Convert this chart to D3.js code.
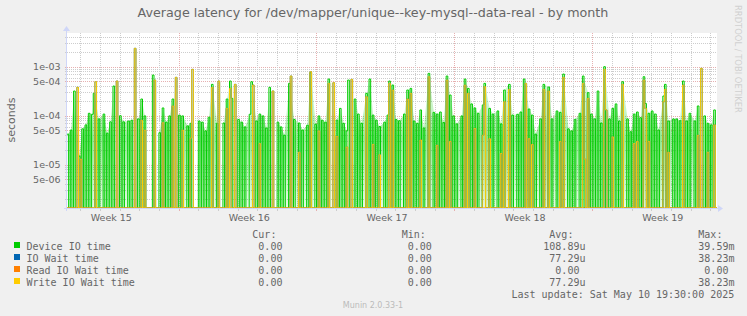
<!DOCTYPE html>
<html>
<head>
<meta charset="utf-8">
<title>Average latency for /dev/mapper/unique--key-mysql--data-real - by month</title>
<script src="https://cdn.jsdelivr.net/npm/d3@7"></script>
<style>
    html, body { margin: 0; padding: 0; background: #f0f0f0; }
    svg { display: block; }
    text { fill: #666666; font-family: "DejaVu Sans", sans-serif; }
    .mono { font-family: "DejaVu Sans Mono", monospace; font-size: 10px; white-space: pre; }
</style>
</head>
<body>
<div id="chart"></div>
<script>
// ========================================
// DATA
// ========================================

// one value per 2 hour sample, in microseconds (0 = nothing measured)
const sampleStart = Date.UTC(2025, 3, 8, 8, 0);
const sampleHours = 2;

const deviceIoTime = [
    42, 0, 51, 0, 319, 0, 0, 15, 0, 54, 0, 65,
    0, 112, 0, 107, 286, 0, 0, 86, 0, 0, 108, 0,
    44, 0, 75, 0, 403, 0, 0, 0, 100, 0, 75, 0,
    0, 78, 0, 81, 0, 0, 0, 86, 0, 219, 0, 99,
    0, 0, 0, 0, 675, 0, 0, 0, 45, 0, 144, 0,
    74, 0, 99, 0, 219, 0, 0, 0, 103, 0, 99, 0,
    0, 62, 0, 70, 0, 0, 0, 0, 78, 0, 74, 0,
    49, 0, 93, 0, 436, 0, 0, 70, 0, 0, 0, 71,
    0, 219, 0, 510, 226, 0, 0, 0, 84, 0, 74, 0,
    59, 0, 0, 107, 494, 0, 0, 78, 0, 108, 0, 99,
    0, 56, 0, 379, 0, 0, 0, 0, 74, 0, 59, 0,
    40, 0, 0, 457, 0, 0, 84, 0, 0, 71, 0, 51,
    0, 0, 64, 0, 754, 0, 0, 67, 0, 99, 0, 81,
    0, 74, 0, 560, 0, 0, 0, 0, 81, 0, 141, 0,
    70, 0, 49, 534, 0, 0, 0, 219, 0, 108, 0, 70,
    0, 0, 286, 0, 560, 0, 103, 0, 81, 0, 60, 0,
    0, 74, 0, 103, 510, 0, 422, 0, 84, 0, 79, 0,
    0, 108, 0, 334, 0, 361, 0, 78, 0, 70, 0, 131,
    0, 56, 0, 0, 731, 0, 0, 117, 0, 108, 0, 119,
    0, 73, 0, 645, 0, 264, 0, 99, 0, 68, 0, 0,
    99, 0, 560, 0, 361, 0, 174, 0, 144, 0, 112, 0,
    0, 166, 457, 0, 0, 141, 0, 108, 0, 0, 125, 0,
    68, 0, 334, 0, 0, 436, 0, 103, 0, 0, 107, 0,
    119, 0, 560, 0, 0, 137, 0, 103, 0, 42, 0, 0,
    86, 0, 436, 0, 0, 385, 0, 86, 0, 0, 125, 0,
    117, 0, 708, 0, 0, 54, 0, 49, 0, 84, 0, 0,
    112, 0, 645, 0, 0, 295, 0, 108, 0, 86, 0, 319,
    0, 71, 0, 1000, 0, 0, 86, 0, 141, 0, 174, 0,
    78, 0, 494, 0, 0, 86, 0, 47, 0, 108, 0, 119,
    0, 91, 0, 625, 178, 0, 112, 0, 125, 0, 108, 0,
    51, 0, 0, 252, 436, 0, 78, 0, 0, 86, 0, 86,
    0, 79, 0, 510, 0, 78, 0, 112, 0, 0, 78, 0,
    158, 0, 0, 0, 99, 0, 70, 0, 65, 0, 131, 0
];

const writeIoWaitTime = [
    0, 0, 0, 0, 0, 0, 379, 0, 13, 0, 0, 0,
    0, 0, 0, 0, 0, 494, 0, 0, 0, 0, 0, 0,
    0, 0, 0, 0, 0, 0, 510, 0, 0, 0, 0, 0,
    0, 0, 0, 0, 0, 2370, 0, 0, 0, 81, 0, 51,
    0, 0, 0, 0, 0, 534, 0, 0, 0, 0, 72, 0,
    0, 0, 0, 0, 158, 0, 606, 0, 0, 0, 51, 0,
    0, 0, 0, 35, 882, 0, 0, 0, 0, 0, 0, 0,
    0, 0, 0, 0, 379, 0, 0, 0, 510, 0, 0, 0,
    0, 141, 0, 361, 0, 0, 436, 0, 0, 0, 0, 0,
    0, 0, 0, 0, 0, 422, 0, 0, 0, 27, 0, 0,
    0, 0, 0, 0, 0, 319, 0, 0, 0, 0, 0, 0,
    0, 0, 0, 0, 645, 0, 0, 0, 0, 18, 0, 0,
    0, 0, 0, 0, 790, 0, 0, 0, 0, 49, 0, 0,
    0, 0, 0, 457, 0, 0, 472, 0, 38, 0, 0, 0,
    0, 0, 23, 0, 0, 551, 0, 0, 0, 0, 0, 0,
    0, 0, 244, 0, 0, 0, 26, 0, 0, 0, 16, 0,
    0, 0, 0, 0, 457, 0, 334, 0, 0, 0, 0, 0,
    0, 0, 0, 219, 0, 286, 0, 0, 0, 0, 0, 32,
    0, 0, 0, 0, 625, 0, 0, 0, 0, 25, 0, 0,
    0, 0, 0, 534, 0, 30, 0, 0, 0, 0, 0, 0,
    0, 0, 422, 0, 286, 0, 0, 0, 55, 0, 0, 0,
    0, 40, 391, 0, 0, 34, 0, 0, 0, 0, 0, 0,
    17, 0, 193, 0, 0, 345, 0, 0, 0, 0, 0, 0,
    0, 0, 0, 457, 0, 34, 0, 26, 0, 0, 0, 0,
    0, 0, 345, 0, 0, 319, 0, 0, 0, 0, 0, 0,
    30, 0, 606, 0, 0, 0, 0, 0, 0, 0, 0, 0,
    0, 0, 457, 13, 0, 226, 0, 0, 0, 0, 0, 0,
    0, 0, 0, 882, 131, 0, 0, 0, 37, 0, 0, 0,
    0, 0, 436, 0, 0, 0, 0, 0, 0, 27, 0, 30,
    0, 0, 0, 534, 141, 0, 30, 0, 0, 0, 0, 0,
    0, 0, 0, 193, 345, 0, 18, 0, 0, 0, 0, 0,
    0, 0, 0, 422, 0, 0, 0, 0, 0, 0, 0, 0,
    40, 0, 925, 0, 0, 0, 18, 0, 0, 0, 65, 0
];

// IO wait equals write wait in this period (same avg / max), read wait stayed at 0
const ioWaitTime = writeIoWaitTime.slice();
const readIoWaitTime = new Array(deviceIoTime.length).fill(0);

const seriesNames = ["Device IO time", "IO Wait time", "Read IO Wait time", "Write IO Wait time"];
const seriesColors = ["#00cc00", "#0066b3", "#ff8000", "#ffcc00"];
const seriesValues = [deviceIoTime, ioWaitTime, readIoWaitTime, writeIoWaitTime];

// legend numbers, seconds
const legendCur = [0, 0, 0, 0];
const legendMin = [0, 0, 0, 0];
const legendAvg = [108.89e-6, 77.29e-6, 0, 77.29e-6];
const legendMax = [39.59e-3, 38.23e-3, 0, 38.23e-3];

const yTickValues = [1e-3, 5e-4, 1e-4, 5e-5, 1e-5, 5e-6];
const yDomain = [1.31e-6, 4.87e-3];
const lastUpdate = "Sat May 10 19:30:00 2025";

// ========================================
// LAYOUT
// ========================================

const W = 747, H = 316;
const plot = { left: 67, right: 717, top: 33, bottom: 208 };
const axisColor = "#cfd6f8";
const gridColor = "#cdcdcd";
const mgridColor = "#e6b0b0";

const svg = d3.select("#chart").append("svg")
    .attr("width", W)
    .attr("height", H);

svg.append("rect").attr("width", W).attr("height", H).attr("fill", "#f0f0f0");
svg.append("rect")
    .attr("x", plot.left).attr("y", plot.top)
    .attr("width", plot.right - plot.left).attr("height", plot.bottom - plot.top)
    .attr("fill", "#ffffff");

const stepMs = sampleHours * 3600 * 1000;
const timeOf = i => new Date(sampleStart + i * stepMs);
const tStart = timeOf(0);
const tEnd = timeOf(deviceIoTime.length);

const x = d3.scaleUtc().domain([tStart, tEnd]).range([plot.left, plot.right]);
const y = d3.scaleLog().domain(yDomain).range([plot.bottom, plot.top]).clamp(true);
const yOf = us => us > 0 ? y(us * 1e-6) : plot.bottom;
const crisp = v => Math.round(v) + 0.5;

// ========================================
// GRID
// ========================================

const grid = svg.append("g");

const yGrid = [];
for (let e = -6; e <= -3; e++) {
    for (let k = 1; k <= 9; k++) {
        const v = k * Math.pow(10, e);
        if (v >= yDomain[0] && v <= yDomain[1]) yGrid.push({ v, major: k === 1 || k === 5 });
    }
}

grid.selectAll(".ygrid").data(yGrid).enter().append("line")
    .attr("x1", plot.left).attr("x2", plot.right)
    .attr("y1", d => crisp(y(d.v))).attr("y2", d => crisp(y(d.v)))
    .attr("stroke", d => d.major ? mgridColor : gridColor)
    .attr("stroke-dasharray", "1,1");

grid.selectAll(".ytick").data(yGrid).enter().append("line")
    .attr("x1", plot.left - 2).attr("x2", plot.left)
    .attr("y1", d => crisp(y(d.v))).attr("y2", d => crisp(y(d.v)))
    .attr("stroke", d => d.major ? mgridColor : gridColor);

const days = d3.utcDay.range(tStart, tEnd).map(d => ({ d, major: d.getUTCDay() === 1 }));

grid.selectAll(".xgrid").data(days).enter().append("line")
    .attr("x1", d => crisp(x(d.d))).attr("x2", d => crisp(x(d.d)))
    .attr("y1", plot.top).attr("y2", plot.bottom)
    .attr("stroke", d => d.major ? mgridColor : gridColor)
    .attr("stroke-dasharray", "1,1");

grid.selectAll(".xtick").data(days).enter().append("line")
    .attr("x1", d => crisp(x(d.d))).attr("x2", d => crisp(x(d.d)))
    .attr("y1", plot.bottom).attr("y2", plot.bottom + 3)
    .attr("stroke", d => d.major ? mgridColor : gridColor);

// ========================================
// SERIES
// ========================================

const defs = svg.append("defs");
defs.append("clipPath").attr("id", "plotClip").append("rect")
    .attr("x", plot.left).attr("y", plot.top - 1)
    .attr("width", plot.right - plot.left).attr("height", plot.bottom - plot.top + 1.5);

function addFade(id, color, stops) {
    const g = defs.append("linearGradient").attr("id", id)
        .attr("gradientUnits", "userSpaceOnUse")
        .attr("x1", 0).attr("x2", 0).attr("y1", plot.top).attr("y2", plot.bottom);
    stops.forEach(([off, op]) => {
        g.append("stop").attr("offset", off).attr("stop-color", color).attr("stop-opacity", op);
    });
}
addFade("fadeGreen", seriesColors[0], [[0, 0.08], [0.45, 0.22], [0.6, 0.42], [1, 0.1]]);
addFade("fadeYellow", "#d4b000", [[0, 0.05], [0.5, 0.12], [0.75, 0.22], [1, 0.08]]);

const data = svg.append("g").attr("clip-path", "url(#plotClip)");

const toPoints = values => {
    const pts = values.map((v, i) => ({ t: timeOf(i), v }));
    pts.push({ t: tEnd, v: values[values.length - 1] });
    return pts;
};

// soft band between close neighbouring spikes (the smeared look of the rrd lines)
const band = d3.area()
    .defined(d => d !== null)
    .x(d => x(new Date(d.t.getTime() + stepMs / 2)))
    .y0(plot.bottom)
    .y1(d => yOf(d.v));

const peaks = values => {
    const out = [];
    let last = -99;
    values.forEach((v, i) => {
        if (v <= 0) return;
        if (i - last > 3) out.push(null);
        out.push({ t: timeOf(i), v });
        last = i;
    });
    return out;
};

data.append("path").attr("d", band(peaks(deviceIoTime))).attr("fill", "url(#fadeGreen)");
data.append("path").attr("d", band(peaks(writeIoWaitTime))).attr("fill", "url(#fadeYellow)");

const step = d3.line()
    .x(d => x(d.t))
    .y(d => yOf(d.v))
    .curve(d3.curveStepAfter);

seriesValues.forEach((values, i) => {
    data.append("path")
        .attr("d", step(toPoints(values)))
        .attr("fill", "none")
        .attr("stroke", seriesColors[i])
        .attr("stroke-width", 1);
});

// ========================================
// AXES
// ========================================

svg.append("line")
    .attr("x1", plot.left - 3).attr("x2", plot.right + 1)
    .attr("y1", plot.bottom + 0.5).attr("y2", plot.bottom + 0.5)
    .attr("stroke", axisColor);
svg.append("path")
    .attr("d", `M${plot.right + 1},${plot.bottom - 3}L${plot.right + 6},${plot.bottom + 0.5}L${plot.right + 1},${plot.bottom + 4}Z`)
    .attr("fill", axisColor);

svg.append("line")
    .attr("x1", plot.left - 0.5).attr("x2", plot.left - 0.5)
    .attr("y1", plot.bottom + 3).attr("y2", plot.top - 2)
    .attr("stroke", axisColor);
svg.append("path")
    .attr("d", `M${plot.left - 4},${plot.top - 2}L${plot.left - 0.5},${plot.top - 7}L${plot.left + 3},${plot.top - 2}Z`)
    .attr("fill", axisColor);

const expLabel = v => {
    const [m, e] = v.toExponential(0).split("e");
    const n = Math.abs(+e);
    return `${m}e${+e < 0 ? "-" : "+"}${n < 10 ? "0" + n : n}`;
};

svg.selectAll(".ylabel").data(yTickValues).enter().append("text")
    .attr("x", plot.left - 6.5)
    .attr("y", d => y(d) + 3.5)
    .attr("text-anchor", "end")
    .attr("font-size", "9.5px")
    .text(expLabel);

const weekStarts = d3.utcMonday.range(d3.utcMonday.floor(tStart), tEnd);
const weekFmt = d3.utcFormat("%V");
svg.selectAll(".week").data(weekStarts.filter(m => {
        const c = d3.utcHour.offset(m, 84);
        return c > tStart && c < tEnd;
    })).enter().append("text")
    .attr("x", m => x(d3.utcHour.offset(m, 86)))
    .attr("y", plot.bottom + 12.5)
    .attr("text-anchor", "middle")
    .attr("font-size", "9.5px")
    .text(m => "Week " + weekFmt(m));

// ========================================
// TITLES
// ========================================

svg.append("text")
    .attr("x", 373).attr("y", 17)
    .attr("text-anchor", "middle")
    .attr("font-size", "12.7px")
    .text("Average latency for /dev/mapper/unique--key-mysql--data-real - by month");

svg.append("text")
    .attr("transform", "translate(15,120) rotate(-90)")
    .attr("text-anchor", "middle")
    .attr("font-size", "11px")
    .text("seconds");

svg.append("text")
    .attr("transform", "translate(735,5) rotate(90)")
    .attr("font-size", "8.4px")
    .style("fill", "#d0d0d0")
    .text("RRDTOOL / TOBI OETIKER");

svg.append("text")
    .attr("x", 373).attr("y", 307.5)
    .attr("text-anchor", "middle")
    .attr("font-size", "8px")
    .style("fill", "#bbbbbb")
    .text("Munin 2.0.33-1");

// ========================================
// LEGEND
// ========================================

function rrdNumber(v) {
    if (v === 0) return "  0.00 ";
    const e = Math.floor(Math.log10(v) / 3) * 3;
    const prefix = { "-9": "n", "-6": "u", "-3": "m", "0": " ", "3": "k" }[e];
    return (v / Math.pow(10, e)).toFixed(2).padStart(6) + prefix;
}

const colX = [246.3, 395.7, 543.3, 692.3];
const headers = [" Cur:", " Min:", " Avg:", " Max:"];
const legend = svg.append("g");

headers.forEach((h, c) => {
    legend.append("text").attr("class", "mono")
        .attr("xml:space", "preserve")
        .attr("x", colX[c]).attr("y", 237.5)
        .text(h);
});

seriesNames.forEach((name, i) => {
    const base = 249.5 + i * 12;
    legend.append("rect")
        .attr("x", 14).attr("y", base - 7.5)
        .attr("width", 6).attr("height", 6)
        .attr("fill", seriesColors[i]);
    legend.append("text").attr("class", "mono")
        .attr("x", 26.5).attr("y", base)
        .text(name);
    [legendCur[i], legendMin[i], legendAvg[i], legendMax[i]].forEach((v, c) => {
        legend.append("text").attr("class", "mono")
            .attr("xml:space", "preserve")
            .attr("x", colX[c]).attr("y", base)
            .text(rrdNumber(v));
    });
});

legend.append("text").attr("class", "mono")
    .attr("x", 511.5).attr("y", 297.5)
    .text("Last update: " + lastUpdate);
</script>
</body>
</html>
